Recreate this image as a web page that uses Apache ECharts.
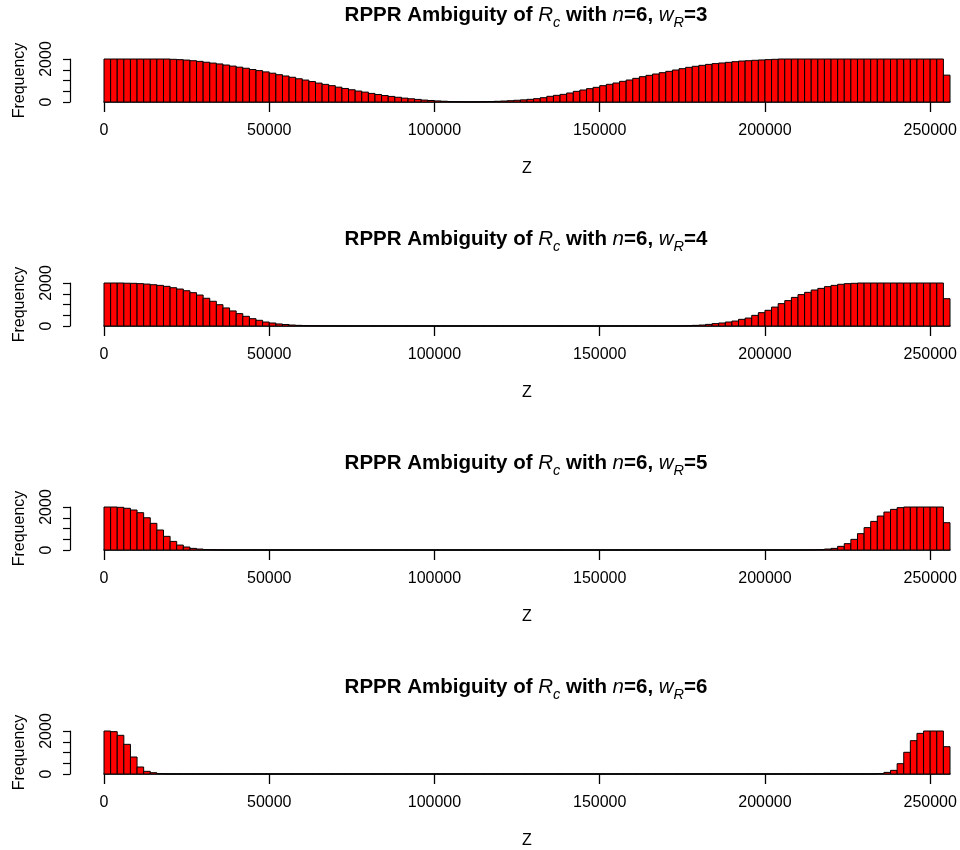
<!DOCTYPE html>
<html>
<head>
<meta charset="utf-8">
<script src="https://cdn.jsdelivr.net/npm/echarts@6/dist/echarts.min.js"></script>
<style>html,body{margin:0;padding:0;background:#fff}#c{width:960px;height:850px}</style>
</head>
<body>
<div id="c"></div>
<script>
// ---- data ----
const binWidth = 2000;
const nValue = 6;
const wRValues = [3, 4, 5, 6];
const xTicks = [0, 50000, 100000, 150000, 200000, 250000];
const yTicks = [0, 500, 1000, 1500, 2000];
const yLabelTicks = [0, 2000];

const freqW3 = [
  2000,2000,2000,2000,2000,2000,2000,2000,2000,2000,
  1985,1970,1950,1920,1890,1850,1810,1770,1720,1670,
  1620,1570,1510,1460,1400,1340,1270,1210,1150,1080,
  1020,950,880,820,760,690,630,570,510,460,
  400,350,300,260,220,180,150,120,90,70,
  50,35,20,12,6,5,8,14,22,32,
  45,60,80,100,124,155,200,264,310,356,
  419,496,558,620,682,760,822,884,961,1023,
  1100,1178,1240,1302,1364,1426,1488,1550,1612,1660,
  1705,1750,1785,1815,1845,1875,1905,1920,1940,1955,
  1970,1985,2000,2000,2000,2000,2000,2000,2000,2000,
  2000,2000,2000,2000,2000,2000,2000,2000,2000,2000,
  2000,2000,2000,2000,2000,2000,2000,1250
];
const freqW4 = [
  2000,2000,2000,1990,1985,1970,1950,1920,1890,1845,
  1780,1720,1640,1550,1440,1290,1150,990,840,700,
  575,450,340,265,185,140,95,70,45,30,
  20,12,8,5,3,2,1,1,0,0,
  0,0,0,0,0,0,0,0,0,0,
  0,0,0,0,0,0,0,0,0,0,
  0,0,0,0,0,0,0,0,0,0,
  0,0,0,0,0,0,0,0,0,0,
  0,0,0,0,0,1,2,5,12,30,
  45,75,110,140,185,230,310,370,495,620,
  730,880,1040,1180,1330,1460,1565,1675,1750,1830,
  1890,1940,1970,1985,2000,2000,2000,2000,2000,2000,
  2000,2000,2000,2000,2000,2000,2000,1270
];
const freqW5 = [
  2000,2000,1985,1940,1860,1735,1500,1240,930,635,
  400,230,140,75,45,20,10,5,2,1,
  0,0,0,0,0,0,0,0,0,0,
  0,0,0,0,0,0,0,0,0,0,
  0,0,0,0,0,0,0,0,0,0,
  0,0,0,0,0,0,0,0,0,0,
  0,0,0,0,0,0,0,0,0,0,
  0,0,0,0,0,0,0,0,0,0,
  0,0,0,0,0,0,0,0,0,0,
  0,0,0,0,0,0,0,0,0,0,
  0,0,0,0,0,1,3,8,20,45,
  75,170,295,495,760,1040,1330,1580,1765,1890,
  1970,2000,2000,2000,2000,2000,2000,1270
];
const freqW6 = [
  2000,1970,1800,1380,790,325,125,60,20,5,
  1,0,0,0,0,0,0,0,0,0,
  0,0,0,0,0,0,0,0,0,0,
  0,0,0,0,0,0,0,0,0,0,
  0,0,0,0,0,0,0,0,0,0,
  0,0,0,0,0,0,0,0,0,0,
  0,0,0,0,0,0,0,0,0,0,
  0,0,0,0,0,0,0,0,0,0,
  0,0,0,0,0,0,0,0,0,0,
  0,0,0,0,0,0,0,0,0,0,
  0,0,0,0,0,0,0,0,0,0,
  0,0,0,0,0,0,2,20,75,170,
  480,1010,1550,1890,2000,2000,2000,1270
];
const panels = [freqW3, freqW4, freqW5, freqW6];

// ---- chart ----
const FONT = '"Liberation Sans", Arial, Helvetica, sans-serif';
const chart = echarts.init(document.getElementById('c'), null, {renderer: 'canvas'});
const PITCH = 224;
const grids = [], xAxes = [], yAxes = [], series = [], titles = [];

function renderItem(params, api) {
  const p0 = api.coord([api.value(0), api.value(2)]);
  const p1 = api.coord([api.value(1), 0]);
  return {
    type: 'rect',
    shape: {x: p0[0], y: p0[1], width: p1[0] - p0[0], height: p1[1] - p0[1]},
    style: {fill: '#ff0000', stroke: '#000', lineWidth: 1}
  };
}

panels.forEach((freq, k) => {
  const top = 59 + PITCH * k;
  grids.push({left: 104, top: top, width: 846, height: 43, containLabel: false});
  xAxes.push({
    type: 'value', gridIndex: k, min: 0, max: binWidth * freq.length,
    name: 'Z', nameLocation: 'middle', nameGap: 59,
    nameTextStyle: {fontFamily: FONT, fontSize: 16, color: '#000'},
    axisLine: {show: true, onZero: false, lineStyle: {color: '#000', width: 1.5}},
    axisTick: {show: true, length: 10, customValues: xTicks, lineStyle: {color: '#000', width: 1.3}},
    axisLabel: {show: true, customValues: xTicks, margin: 21, fontFamily: FONT, fontSize: 16, color: '#000',
      formatter: v => String(v)},
    splitLine: {show: false}
  });
  yAxes.push({
    type: 'value', gridIndex: k, min: 0, max: 2000, interval: 500, offset: 34,
    name: 'Frequency', nameLocation: 'middle', nameGap: 42,
    nameTextStyle: {fontFamily: FONT, fontSize: 16, color: '#000'},
    axisLine: {show: true, onZero: false, lineStyle: {color: '#000', width: 1.2}},
    axisTick: {show: true, length: 7, customValues: yTicks, lineStyle: {color: '#000', width: 1.2}},
    axisLabel: {show: true, customValues: yLabelTicks, rotate: 90, margin: 15, fontFamily: FONT, fontSize: 16, color: '#000',
      formatter: v => String(v)},
    splitLine: {show: false}
  });
  series.push({
    type: 'custom', xAxisIndex: k, yAxisIndex: k,
    renderItem: renderItem,
    encode: {x: [0, 1], y: 2},
    data: freq.map((f, i) => [i * binWidth, (i + 1) * binWidth, f]),
    silent: true, animation: false
  });
  titles.push({
    left: 521, top: -3 + PITCH * k, textAlign: 'center',
    text: '{b|RPPR Ambiguity of }{i|R}{s|c}{b| with }{i|n}{b|=' + nValue + ', }{i|w}{s|R}{b|=' + wRValues[k] + '}',
    textStyle: {
      rich: {
        b: {fontFamily: FONT, fontSize: 20.5, fontWeight: 'bold', color: '#000', lineHeight: 26, verticalAlign: 'middle'},
        i: {fontFamily: FONT, fontSize: 20.5, fontStyle: 'italic', fontWeight: 'normal', color: '#000', lineHeight: 26, verticalAlign: 'middle'},
        s: {fontFamily: FONT, fontSize: 14.5, fontStyle: 'italic', fontWeight: 'normal', color: '#000', lineHeight: 14, verticalAlign: 'bottom', padding: [0, 0, -2, 0]}
      }
    }
  });
});

chart.setOption({
  animation: false,
  backgroundColor: '#fff',
  title: titles,
  grid: grids,
  xAxis: xAxes,
  yAxis: yAxes,
  series: series
});
</script>
</body>
</html>
